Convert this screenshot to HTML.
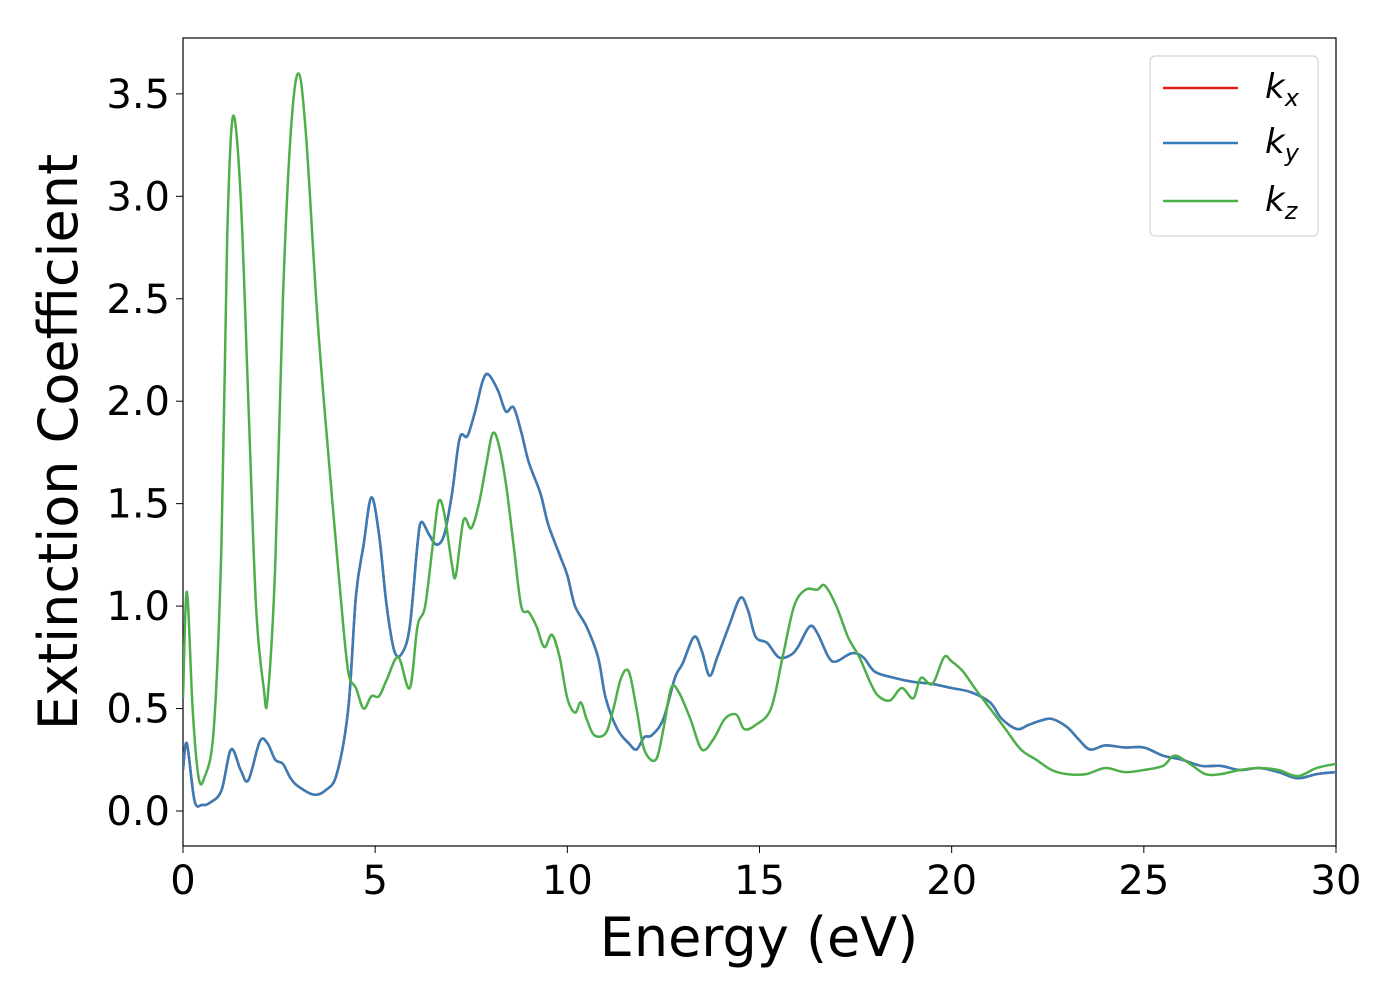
<!DOCTYPE html>
<html><head><meta charset="utf-8">
<style>
html,body{margin:0;padding:0;background:#fff;}
svg{display:block;font-family:"DejaVu Sans","Liberation Sans",sans-serif;}
</style></head>
<body>
<svg id="chart" width="1400" height="1000" viewBox="0 0 1400 1000">
<rect x="183" y="38" width="1153" height="808" fill="#fff" stroke="#000" stroke-width="1.2"/>
<g id="series"></g>
<g id="axes"></g>
<text x="759" y="956" font-size="54" text-anchor="middle">Energy (eV)</text>
<text transform="translate(77,442) rotate(-90)" font-size="54" text-anchor="middle">Extinction Coefficient</text>
<g>
<rect x="1150" y="56" width="168" height="180" rx="5" fill="#fff" stroke="#ccc" stroke-width="1"/>
<g><line x1="1163" y1="88" x2="1238" y2="88" stroke="#e41a1c" stroke-width="2.5"/><text x="1265" y="98" font-size="34" font-style="italic">k<tspan font-size="24" dy="8">x</tspan></text></g>
<g><line x1="1163" y1="143" x2="1238" y2="143" stroke="#377eb8" stroke-width="2.5"/><text x="1265" y="153" font-size="34" font-style="italic">k<tspan font-size="24" dy="8">y</tspan></text></g>
<g><line x1="1163" y1="201" x2="1238" y2="201" stroke="#4daf4a" stroke-width="2.5"/><text x="1265" y="211" font-size="34" font-style="italic">k<tspan font-size="24" dy="8">z</tspan></text></g>
</g>
</svg>
<script>
const xTicks=[0,5,10,15,20,25,30];
const yTicks=[0,0.5,1.0,1.5,2.0,2.5,3.0,3.5];
const yTickLabels=["0.0","0.5","1.0","1.5","2.0","2.5","3.0","3.5"];
const kyE=[0,0.1,0.3,0.5,0.7,1.0,1.25,1.5,1.7,2.0,2.2,2.4,2.6,2.8,3.0,3.4,3.7,4.0,4.3,4.5,4.7,4.9,5.1,5.3,5.5,5.7,5.9,6.1,6.2,6.4,6.6,6.8,7.0,7.2,7.4,7.6,7.8,7.95,8.2,8.4,8.6,8.8,9.0,9.3,9.5,9.8,10.0,10.2,10.5,10.8,11.0,11.3,11.6,11.8,12.0,12.2,12.5,12.8,13.0,13.3,13.5,13.7,13.9,14.2,14.5,14.7,14.9,15.2,15.5,15.8,16.0,16.3,16.5,16.8,17.0,17.4,17.7,18.0,18.5,19.0,19.5,20.0,20.5,21.0,21.3,21.7,22.0,22.3,22.6,23.0,23.3,23.6,24.0,24.5,25.0,25.5,26.0,26.5,27.0,27.5,28.0,28.5,29.0,29.5,30];
const kyV=[0.2,0.33,0.05,0.03,0.04,0.1,0.3,0.2,0.15,0.34,0.33,0.25,0.23,0.16,0.12,0.08,0.1,0.18,0.5,1.05,1.3,1.53,1.35,1.0,0.78,0.77,0.9,1.3,1.41,1.35,1.3,1.35,1.55,1.82,1.83,1.95,2.1,2.13,2.05,1.95,1.97,1.85,1.7,1.55,1.4,1.25,1.15,1.0,0.9,0.75,0.55,0.4,0.33,0.3,0.36,0.37,0.45,0.65,0.72,0.85,0.78,0.66,0.75,0.9,1.04,0.98,0.85,0.82,0.75,0.76,0.8,0.9,0.87,0.75,0.73,0.77,0.75,0.68,0.65,0.63,0.62,0.6,0.58,0.53,0.45,0.4,0.42,0.44,0.45,0.41,0.35,0.3,0.32,0.31,0.31,0.27,0.25,0.22,0.22,0.2,0.21,0.19,0.16,0.18,0.19];
const kxE=kyE.slice();
const kxV=kyV.slice();
const kzE=[0,0.1,0.25,0.4,0.55,0.8,1.0,1.15,1.3,1.5,1.7,1.9,2.1,2.2,2.4,2.6,2.8,3.0,3.2,3.5,3.8,4.1,4.3,4.5,4.7,4.9,5.1,5.3,5.6,5.9,6.1,6.3,6.5,6.65,6.8,7.0,7.1,7.3,7.5,7.7,7.9,8.05,8.2,8.4,8.6,8.8,9.0,9.2,9.4,9.6,9.8,10.0,10.2,10.35,10.5,10.7,11.0,11.2,11.4,11.6,11.8,12.0,12.3,12.5,12.7,12.9,13.2,13.5,13.8,14.1,14.4,14.6,14.9,15.3,15.6,15.9,16.2,16.5,16.7,17.0,17.3,17.6,17.9,18.1,18.4,18.7,19.0,19.2,19.5,19.8,20.0,20.3,20.6,21.0,21.4,21.8,22.2,22.6,23.0,23.5,24.0,24.5,25.0,25.5,25.8,26.2,26.6,27.0,27.5,28.0,28.5,29.0,29.5,30];
const kzV=[0.55,1.07,0.5,0.17,0.16,0.4,1.3,2.8,3.39,3.0,2.0,1.0,0.6,0.55,1.2,2.5,3.3,3.6,3.3,2.4,1.7,1.05,0.68,0.6,0.5,0.56,0.56,0.64,0.75,0.6,0.9,1.0,1.3,1.51,1.45,1.2,1.15,1.42,1.38,1.5,1.7,1.84,1.8,1.6,1.3,1.0,0.97,0.9,0.8,0.86,0.75,0.55,0.48,0.53,0.45,0.37,0.38,0.5,0.65,0.68,0.5,0.3,0.25,0.4,0.6,0.58,0.45,0.3,0.35,0.45,0.47,0.4,0.42,0.5,0.75,1.0,1.08,1.08,1.1,1.0,0.85,0.75,0.62,0.56,0.54,0.6,0.55,0.65,0.62,0.75,0.73,0.68,0.6,0.5,0.4,0.3,0.25,0.2,0.18,0.18,0.21,0.19,0.2,0.22,0.27,0.23,0.18,0.18,0.2,0.21,0.2,0.17,0.21,0.23];

const X0=183,X1=1336,Y0=811,PXU=204.9;
function sx(v){return X0+(v-0)/30*(X1-X0);}
function sy(v){return Y0-v*PXU;}
const NS="http://www.w3.org/2000/svg";
const axes=document.getElementById('axes');
xTicks.forEach(t=>{
  const l=document.createElementNS(NS,'line');
  l.setAttribute('x1',sx(t));l.setAttribute('x2',sx(t));l.setAttribute('y1',846);l.setAttribute('y2',853);l.setAttribute('stroke','#000');
  
  
  axes.appendChild(l);
  const tx=document.createElementNS(NS,'text');
  tx.setAttribute('x',sx(t));tx.setAttribute('y',894);tx.setAttribute('font-size','40');tx.setAttribute('text-anchor','middle');
  tx.textContent=String(t);
  
  
  axes.appendChild(tx);
});
yTicks.forEach((t,i)=>{
  const l=document.createElementNS(NS,'line');
  l.setAttribute('x1',176);l.setAttribute('x2',183);l.setAttribute('y1',sy(t));l.setAttribute('y2',sy(t));l.setAttribute('stroke','#000');
  
  
  axes.appendChild(l);
  const tx=document.createElementNS(NS,'text');
  tx.setAttribute('x',170);tx.setAttribute('y',sy(t)+14);tx.setAttribute('font-size','40');tx.setAttribute('text-anchor','end');
  tx.textContent=yTickLabels[i];
  
  
  axes.appendChild(tx);
});
function smoothPath(E,V){
  const p=E.map((e,i)=>[sx(e),sy(V[i])]);
  let d='M'+p[0][0]+','+p[0][1];
  for(let i=0;i<p.length-1;i++){
    const p0=p[i-1]||p[i],p1=p[i],p2=p[i+1],p3=p[i+2]||p2;
    const c1x=p1[0]+(p2[0]-p0[0])/6,c1y=p1[1]+(p2[1]-p0[1])/6;
    const c2x=p2[0]-(p3[0]-p1[0])/6,c2y=p2[1]-(p3[1]-p1[1])/6;
    d+=' C'+c1x+','+c1y+' '+c2x+','+c2y+' '+p2[0]+','+p2[1];
  }
  return d;
}
const series=document.getElementById('series');
[[kxE,kxV,'#e41a1c','kx-line'],[kyE,kyV,'#377eb8','ky-line'],[kzE,kzV,'#4daf4a','kz-line']].forEach(s=>{
  const path=document.createElementNS(NS,'path');
  path.setAttribute('d',smoothPath(s[0],s[1]));
  path.setAttribute('fill','none');path.setAttribute('stroke',s[2]);path.setAttribute('stroke-width','2.5');
  path.setAttribute('clip-path','url(#clip)');
  
  
  series.appendChild(path);
});
const defs=document.createElementNS(NS,'defs');
defs.innerHTML='<clipPath id="clip"><rect x="183" y="38" width="1153" height="808"/></clipPath>';
document.getElementById('chart').prepend(defs);
</script>
</body></html>
